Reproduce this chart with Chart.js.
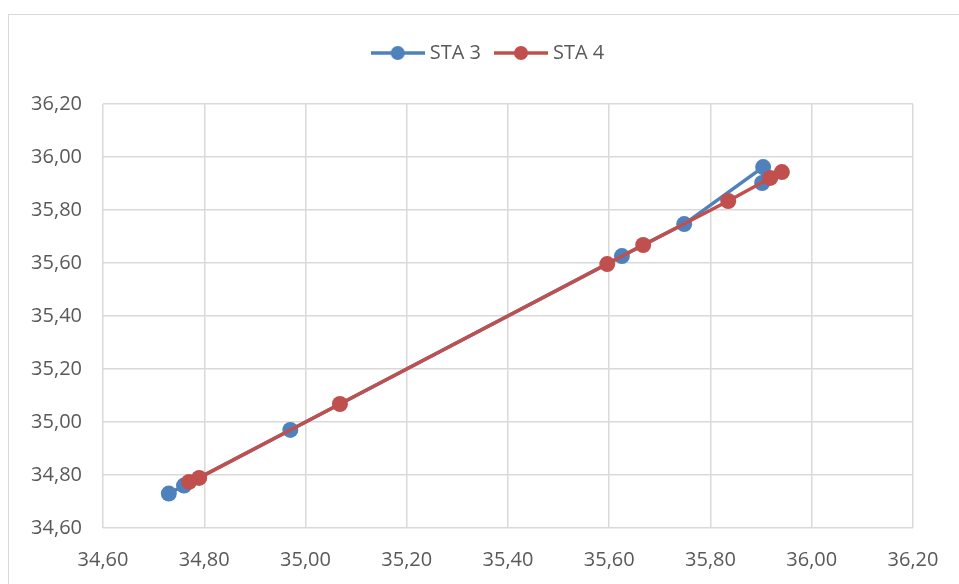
<!DOCTYPE html>
<html>
<head>
<meta charset="utf-8">
<script src="https://cdn.jsdelivr.net/npm/chart.js@4.4.1/dist/chart.umd.min.js"></script>
<style>
  html, body { margin: 0; padding: 0; background: #ffffff; overflow: hidden; width: 959px; height: 584px; }
  #frame { position: absolute; left: 8px; top: 14px; width: 1200px; height: 900px; border: 1px solid #d9d9d9; box-sizing: border-box; }
  #wrap { position: absolute; left: 0; top: 0; width: 980px; height: 584px; }
</style>
</head>
<body>
<div id="frame"></div>
<div id="wrap"><canvas id="c" width="980" height="584"></canvas></div>
<script>
// ---- data ----
const seriesNames = ["STA 3", "STA 4"];
const sta3X = [34.73, 34.76, 34.97, 35.625, 35.748, 35.904, 35.902];
const sta3Y = [34.73, 34.76, 34.97, 35.626, 35.747, 35.962, 35.902];
const sta4X = [34.77, 34.79, 35.068, 35.596, 35.667, 35.835, 35.918, 35.941];
const sta4Y = [34.774, 34.789, 35.068, 35.596, 35.668, 35.834, 35.921, 35.943];
const axisMin = 34.60, axisMax = 36.20, axisStep = 0.20;

const colors = ["#4F81BD", "#C0504D"];
const FONT = "'Open Sans', 'Liberation Sans', sans-serif";

function toPoints(xs, ys) { return xs.map((x, i) => ({ x: x, y: ys[i] })); }

function legendIcon(color) {
  const cv = document.createElement('canvas');
  cv.width = 54; cv.height = 16;
  const g = cv.getContext('2d');
  g.strokeStyle = color; g.lineWidth = 3.5;
  g.beginPath(); g.moveTo(0, 8); g.lineTo(54, 8); g.stroke();
  g.fillStyle = color;
  g.beginPath(); g.arc(27, 8, 7, 0, Math.PI * 2); g.fill();
  return cv;
}
const icons = colors.map(legendIcon);

const fmt = v => v.toFixed(2).replace('.', ',');

new Chart(document.getElementById('c'), {
  type: 'scatter',
  data: {
    datasets: [
      { label: seriesNames[0], data: toPoints(sta3X, sta3Y), showLine: true, order: 2,
        borderColor: colors[0], backgroundColor: colors[0], borderWidth: 3.5,
        pointRadius: 8, pointBorderWidth: 0, pointHoverRadius: 8 },
      { label: seriesNames[1], data: toPoints(sta4X, sta4Y), showLine: true, order: 1,
        borderColor: colors[1], backgroundColor: colors[1], borderWidth: 3.5,
        pointRadius: 8, pointBorderWidth: 0, pointHoverRadius: 8 }
    ]
  },
  options: {
    responsive: false,
    animation: false,
    events: [],
    layout: { padding: { left: 0, right: 0, top: 25, bottom: 0 } },
    plugins: {
      tooltip: { enabled: false },
      legend: {
        position: 'top',
        labels: {
          usePointStyle: true,
          pointStyleWidth: 44,
          padding: 18,
          color: '#595959',
          font: { family: FONT, size: 20 },
          sort: (a, b) => a.datasetIndex - b.datasetIndex,
          generateLabels: function (chart) {
            const items = Chart.defaults.plugins.legend.labels.generateLabels(chart);
            items.forEach(it => { it.pointStyle = icons[it.datasetIndex]; });
            return items;
          }
        }
      }
    },
    scales: {
      x: {
        type: 'linear', min: axisMin, max: axisMax,
        grid: { color: '#d9d9d9', lineWidth: 1.5, drawTicks: false },
        border: { display: false },
        ticks: { stepSize: axisStep, padding: 20, color: '#595959',
                 font: { family: FONT, size: 20 }, callback: v => fmt(v), maxRotation: 0 },
        afterFit: s => { s.height = 56; }
      },
      y: {
        type: 'linear', min: axisMin, max: axisMax,
        grid: { color: '#d9d9d9', lineWidth: 1.5, drawTicks: false },
        border: { display: false },
        ticks: { stepSize: axisStep, padding: 21, color: '#595959',
                 font: { family: FONT, size: 20 }, callback: v => fmt(v) },
        afterFit: s => { s.width = 103; }
      },
      spacerTop: {
        type: 'linear', position: 'top', display: true,
        grid: { display: false }, border: { display: false },
        ticks: { display: false },
        afterFit: s => { s.height = 31; }
      },
      spacerRight: {
        type: 'linear', position: 'right', display: true,
        grid: { display: false }, border: { display: false },
        ticks: { display: false },
        afterFit: s => { s.width = 67; }
      }
    }
  }
});
</script>
</body>
</html>
